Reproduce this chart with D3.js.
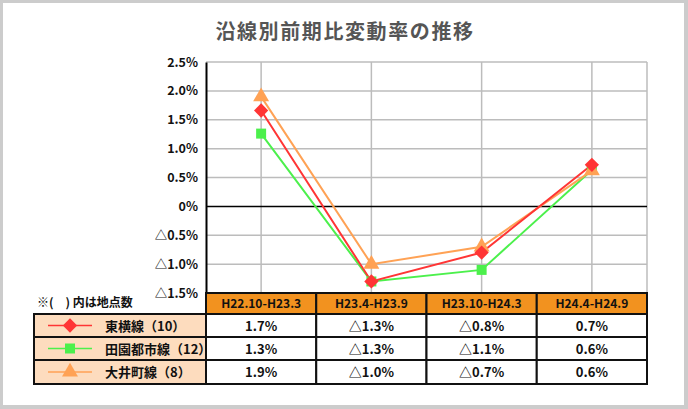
<!DOCTYPE html>
<html><head><meta charset="utf-8">
<script src="https://cdn.jsdelivr.net/npm/d3@7"></script>
<style>
html,body{margin:0;padding:0;background:#fff;}
svg{display:block;}
text{font-family:"Noto Sans CJK JP","Noto Sans",sans-serif;}
</style></head><body>
<script>
const title = "沿線別前期比変動率の推移";
const categories = ["H22.10-H23.3","H23.4-H23.9","H23.10-H24.3","H24.4-H24.9"];
const seriesNames = ["東横線（10）","田園都市線（12）","大井町線（8）"];
const toyoko = [1.66, -1.3, -0.8, 0.72];
const denentoshi = [1.26, -1.3, -1.1, 0.63];
const oimachi = [1.9, -1.0, -0.7, 0.62];
const yTicks = [2.5, 2.0, 1.5, 1.0, 0.5, 0, -0.5, -1.0, -1.5];
const note = "※(　) 内は地点数";

const series = [
  {name: seriesNames[0], values: toyoko, color: "#ff3535", symbol: d3.symbolDiamond2, size: 130},
  {name: seriesNames[1], values: denentoshi, color: "#4cf04c", symbol: d3.symbolSquare, size: 100},
  {name: seriesNames[2], values: oimachi, color: "#ffa255", symbol: d3.symbolTriangle, size: 110}
];

const W = 688, H = 409;
const svg = d3.select("body").append("svg").attr("width", W).attr("height", H);
svg.append("rect").attr("x",0).attr("y",0).attr("width",W).attr("height",H).attr("fill","#cccccc");
svg.append("rect").attr("x",3).attr("y",3).attr("width",W-7).attr("height",H-7).attr("fill","#ffffff");

svg.append("text").attr("x",345).attr("y",39).attr("text-anchor","middle")
  .attr("font-size",20).attr("font-weight","bold").attr("fill","#555").attr("letter-spacing",1.6)
  .text(title);

const pL = 206, pR = 647, pT = 62, pB = 293;
const x = d3.scaleBand().domain(categories).range([pL, pR]);
const y = d3.scaleLinear().domain([-1.5, 2.5]).range([pB, pT]);

const fmt = v => v === 0 ? "0%" : (v < 0 ? "△" : "") + Math.abs(v).toFixed(1) + "%";

svg.append("g").selectAll("line").data(yTicks.filter(t => t !== 0)).join("line")
  .attr("x1", pL).attr("x2", pR).attr("y1", d => y(d)).attr("y2", d => y(d))
  .attr("stroke", "#bcbcbc").attr("stroke-width", 1.5);
svg.append("g").selectAll("line").data(categories).join("line")
  .attr("x1", d => x(d) + x.bandwidth()/2).attr("x2", d => x(d) + x.bandwidth()/2)
  .attr("y1", pT).attr("y2", pB).attr("stroke", "#bcbcbc").attr("stroke-width", 1.5);
svg.append("line").attr("x1", pR).attr("x2", pR).attr("y1", pT).attr("y2", pB)
  .attr("stroke", "#bcbcbc").attr("stroke-width", 1.5);
svg.append("line").attr("x1", pL).attr("x2", pR).attr("y1", y(0)).attr("y2", y(0))
  .attr("stroke", "#000").attr("stroke-width", 1.5);

const yAxis = d3.axisLeft(y).tickValues(yTicks).tickFormat(fmt).tickSize(0).tickPadding(8);
const ga = svg.append("g").attr("transform", `translate(${pL},0)`).call(yAxis);
ga.select(".domain").attr("stroke", "#000").attr("stroke-width", 2);
ga.selectAll("text").attr("font-size", 12.5).attr("font-weight", "bold").attr("fill", "#111")
  .attr("font-family", '"Noto Sans CJK JP",sans-serif');

const line = d3.line().x((d, i) => x(categories[i]) + x.bandwidth()/2).y(d => y(d));
const order = [1, 2, 0];
order.forEach(k => {
  const s = series[k];
  svg.append("path").attr("d", line(s.values)).attr("fill", "none")
    .attr("stroke", s.color).attr("stroke-width", 2);
});
order.forEach(k => {
  const s = series[k];
  svg.append("g").selectAll("path").data(s.values).join("path")
    .attr("transform", (d, i) => `translate(${x(categories[i]) + x.bandwidth()/2},${y(d)})`)
    .attr("d", d3.symbol().type(s.symbol).size(s.size)).attr("fill", s.color);
});

const hTop = pB, hBot = 314;
const rowYs = [314, 337, 360, 384];
const legL = 34;
svg.append("text").attr("x", 37).attr("y", 307).attr("font-size", 12).attr("font-weight", "bold")
  .attr("fill", "#111").text(note);

svg.append("g").selectAll("rect").data(categories).join("rect")
  .attr("x", d => x(d)).attr("y", hTop).attr("width", x.bandwidth()).attr("height", hBot - hTop)
  .attr("fill", "#f2921f").attr("stroke", "#111").attr("stroke-width", 2);
svg.append("g").selectAll("text").data(categories).join("text")
  .attr("x", d => x(d) + x.bandwidth()/2).attr("y", hTop + 15).attr("text-anchor", "middle")
  .attr("font-size", 12).attr("font-weight", "bold").attr("fill", "#111").text(d => d);

series.forEach((s, r) => {
  const y0 = rowYs[r], y1 = rowYs[r+1], cy = (y0 + y1) / 2;
  svg.append("rect").attr("x", legL).attr("y", y0).attr("width", pL - legL).attr("height", y1 - y0)
    .attr("fill", "#fddcbe").attr("stroke", "#111").attr("stroke-width", 2);
  svg.append("line").attr("x1", 48).attr("x2", 92).attr("y1", cy).attr("y2", cy)
    .attr("stroke", s.color).attr("stroke-width", 1.5);
  svg.append("path").attr("transform", `translate(70,${cy})`)
    .attr("d", d3.symbol().type(s.symbol).size(s.size)).attr("fill", s.color);
  svg.append("text").attr("x", 105).attr("y", cy + 5).attr("font-size", 13).attr("font-weight", "bold")
    .attr("fill", "#111").text(s.name);
  svg.append("g").selectAll("rect").data(categories).join("rect")
    .attr("x", d => x(d)).attr("y", y0).attr("width", x.bandwidth()).attr("height", y1 - y0)
    .attr("fill", "#fff").attr("stroke", "#111").attr("stroke-width", 2);
  svg.append("g").selectAll("text").data(s.values).join("text")
    .attr("x", (d, i) => x(categories[i]) + x.bandwidth()/2).attr("y", cy + 5)
    .attr("text-anchor", "middle").attr("font-size", 13).attr("font-weight", "bold").attr("fill", "#111")
    .text(d => fmt(d));
});
</script>
</body></html>
